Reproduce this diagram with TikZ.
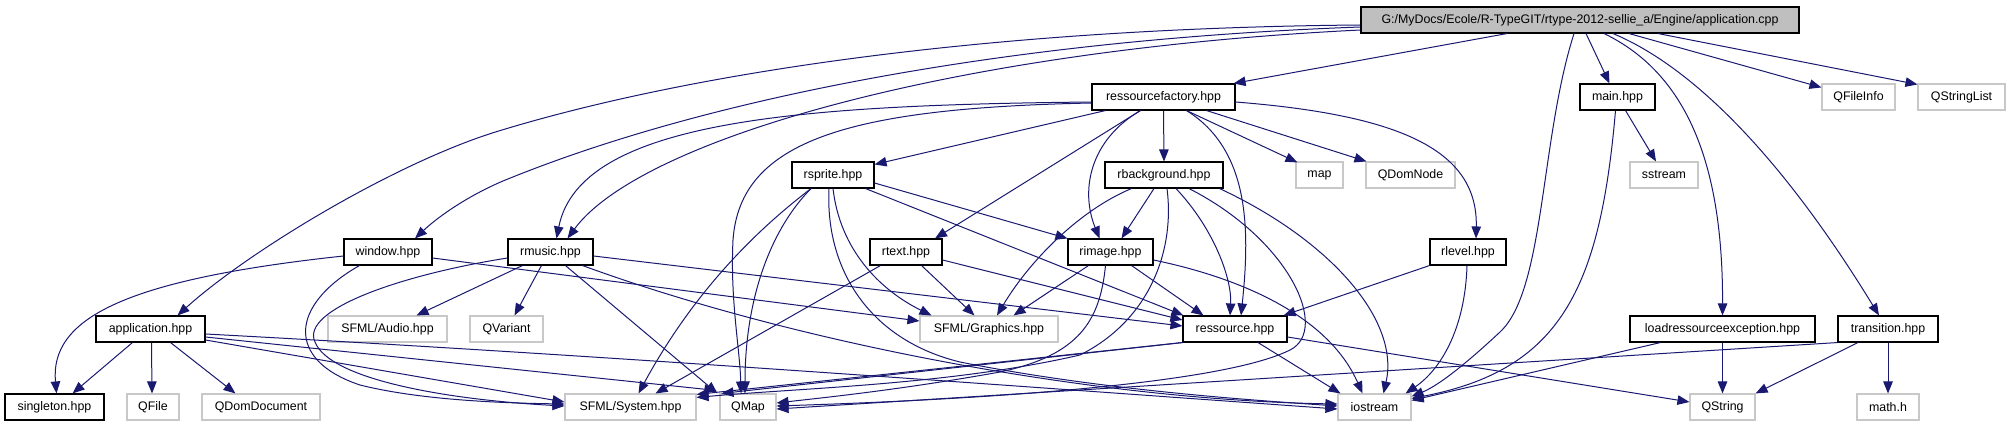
\documentclass[tikz,border=0pt]{standalone}
\usepackage{fontspec}
\setmainfont{Liberation Sans}
\usetikzlibrary{arrows.meta,calc}
\definecolor{edgec}{HTML}{191970}
\definecolor{extgray}{HTML}{C8C8C8}
\definecolor{rootgray}{HTML}{BFBFBF}
\begin{document}
\begin{tikzpicture}[x=1pt,y=-1pt,
  box/.style={draw=black, line width=1.1pt, fill=white, minimum height=26pt, inner sep=0pt, font=\fontsize{12.4}{14}\selectfont},
  ext/.style={box, draw=extgray, line width=1.1pt},
  rootbox/.style={box, fill=rootgray},
  dep/.style={draw=edgec, line width=1pt, -{Triangle[length=12pt,width=9.5pt]}},
]
\useasboundingbox (0,0) rectangle (2009,427);
% nodes
\node[rootbox, minimum width=438pt] (root) at (1580,20) {G:/MyDocs/Ecole/R-TypeGIT/rtype-2012-sellie\_a/Engine/application.cpp};
\node[box, minimum width=143pt] (rf) at (1163.5,97) {ressourcefactory.hpp};
\node[box, minimum width=75pt] (mainh) at (1617.5,97) {main.hpp};
\node[ext, minimum width=73pt] (qfileinfo) at (1858.5,97) {QFileInfo};
\node[ext, minimum width=87pt] (qstringlist) at (1961.5,97) {QStringList};
\node[box, minimum width=82pt] (rsprite) at (833,175) {rsprite.hpp};
\node[box, minimum width=118pt] (rbg) at (1164,175) {rbackground.hpp};
\node[ext, minimum width=47pt] (map) at (1319.5,175) {map};
\node[ext, minimum width=89pt] (qdomnode) at (1410.5,175) {QDomNode};
\node[ext, minimum width=68pt] (sstream) at (1664,175) {sstream};
\node[box, minimum width=88pt] (window) at (388,252) {window.hpp};
\node[box, minimum width=85pt] (rmusic) at (550.5,252) {rmusic.hpp};
\node[box, minimum width=72pt] (rtext) at (906,252) {rtext.hpp};
\node[box, minimum width=85pt] (rimage) at (1110.5,252) {rimage.hpp};
\node[box, minimum width=76pt] (rlevel) at (1468,252) {rlevel.hpp};
\node[box, minimum width=109pt] (app) at (150.5,329) {application.hpp};
\node[ext, minimum width=119pt] (audio) at (387.5,329) {SFML/Audio.hpp};
\node[ext, minimum width=73pt] (qvariant) at (506.5,329) {QVariant};
\node[ext, minimum width=138pt] (graphics) at (989,329) {SFML/Graphics.hpp};
\node[box, minimum width=104pt] (ressource) at (1235,329) {ressource.hpp};
\node[box, minimum width=185pt] (loadex) at (1722.5,329) {loadressourceexception.hpp};
\node[box, minimum width=100pt] (transition) at (1888,329) {transition.hpp};
\node[box, minimum width=99pt] (singleton) at (54.5,407) {singleton.hpp};
\node[ext, minimum width=52pt] (qfile) at (153,407) {QFile};
\node[ext, minimum width=118pt] (qdomdoc) at (261,407) {QDomDocument};
\node[ext, minimum width=131pt] (system) at (630.5,407) {SFML/System.hpp};
\node[ext, minimum width=56pt] (qmap) at (748,407) {QMap};
\node[ext, minimum width=73pt] (iostream) at (1374.5,407) {iostream};
\node[ext, minimum width=65pt] (qstring) at (1722.5,407) {QString};
\node[ext, minimum width=62pt] (math) at (1888,407) {math.h};
% root edges
\draw[dep] ($(root.south)+(-73,0)$) -- ($(rf.north east)+(-2,0)$);
\draw[dep] ($(root.south)+(6,0)$) -- ($(mainh.north)+(-8,0)$);
\draw[dep] ($(root.south)+(49,0)$) -- ($(qfileinfo.north west)+(0,4)$);
\draw[dep] ($(root.south)+(78,0)$) -- ($(qstringlist.north west)+(0,1)$);
\draw[dep] ($(root.south)+(24,0)$) .. controls (1690,75) and (1723,170) .. (loadex.north);
\draw[dep] ($(root.south)+(33,0)$) .. controls (1700,70) and (1790,170) .. ($(transition.north)+(-9,0)$);
\draw[dep] ($(root.south)+(-6,0)$) .. controls (1540,140) and (1545,290) .. (1500,332) .. controls (1470,360) and (1440,385) .. ($(iostream.north east)+(0,3)$);
\draw[dep] ($(root.west)+(0,5)$) .. controls (1000,28) and (700,70) .. (502,130) .. controls (400,160) and (250,250) .. ($(app.north)+(27,0)$);
\draw[dep] ($(root.west)+(0,7)$) .. controls (1000,40) and (700,100) .. (503,181) .. controls (470,195) and (440,215) .. ($(window.north)+(27,0)$);
\draw[dep] ($(root.west)+(0,10)$) .. controls (950,50) and (640,140) .. ($(rmusic.north)+(17,0)$);
% ressourcefactory edges
\draw[dep] ($(rf.west)+(0,5)$) .. controls (800,105) and (580,120) .. ($(rmusic.north)+(6,0)$);
\draw[dep] ($(rf.west)+(0,6)$) .. controls (850,108) and (740,140) .. (733,240) .. controls (730,300) and (740,350) .. ($(qmap.north)+(-7,0)$);
\draw[dep] ($(rf.south west)+(14,0)$) -- ($(rsprite.north east)+(0,3)$);
\draw[dep] ($(rf.south west)+(49,0)$) -- ($(rtext.north)+(29,0)$);
\draw[dep] ($(rf.south west)+(49,0)$) .. controls (1090,140) and (1080,190) .. ($(rimage.north)+(-11,0)$);
\draw[dep] (rf.south) -- (rbg.north);
\draw[dep] ($(rf.south)+(23,0)$) .. controls (1250,150) and (1250,230) .. ($(ressource.north)+(6,0)$);
\draw[dep] ($(rf.south)+(23,0)$) -- ($(map.north west)+(2,1)$);
\draw[dep] ($(rf.south)+(43,0)$) -- ($(qdomnode.north west)+(1,0)$);
\draw[dep] ($(rf.east)+(0,5)$) .. controls (1400,115) and (1478,150) .. ($(rlevel.north)+(8,0)$);
% main
\draw[dep] ($(mainh.south)+(8,0)$) -- ($(sstream.north)+(-8,0)$);
\draw[dep] ($(mainh.south)+(-2,0)$) .. controls (1600,290) and (1560,370) .. ($(iostream.north east)+(0,5)$);
% rsprite
\draw[dep] ($(rsprite.south)+(-22,0)$) .. controls (770,220) and (700,280) .. ($(system.north)+(8,0)$);
\draw[dep] ($(rsprite.south)+(-22,0)$) .. controls (770,230) and (745,300) .. ($(qmap.north)+(-3,0)$);
\draw[dep] (rsprite.south) .. controls (840,250) and (880,290) .. ($(graphics.north west)+(12,0)$);
\draw[dep] ($(rsprite.south)+(-4,0)$) .. controls (825,270) and (870,340) .. (960,362) .. controls (1100,390) and (1250,400) .. ($(iostream.west)+(0,-1)$);
\draw[dep] ($(rsprite.south east)+(-9,0)$) -- ($(ressource.north west)+(1,0)$);
\draw[dep] ($(rsprite.east)+(0,8)$) -- (rimage.north west);
% rbackground
\draw[dep] ($(rbg.south west)+(27,0)$) .. controls (1080,210) and (1030,260) .. ($(graphics.north)+(8,0)$);
\draw[dep] ($(rbg.south)+(-10,0)$) -- ($(rimage.north)+(11,0)$);
\draw[dep] ($(rbg.south)+(3,0)$) .. controls (1175,250) and (1150,320) .. (1080,355) .. controls (950,385) and (800,388) .. ($(system.north east)+(0,4)$);
\draw[dep] ($(rbg.south)+(12,0)$) .. controls (1215,230) and (1232,280) .. ($(ressource.north)+(-5,0)$);
\draw[dep] ($(rbg.south)+(25,0)$) .. controls (1290,240) and (1330,330) .. (1290,350) .. controls (1210,390) and (900,402) .. ($(qmap.east)+(0,-1)$);
\draw[dep] ($(rbg.south east)+(-4,0)$) .. controls (1330,240) and (1400,320) .. ($(iostream.north)+(9,0)$);
% rimage
\draw[dep] ($(rimage.south west)+(21,0)$) -- ($(graphics.north east)+(-45,0)$);
\draw[dep] ($(rimage.south)+(-5,0)$) .. controls (1100,320) and (1080,355) .. (1000,372) .. controls (900,390) and (820,398) .. ($(qmap.east)+(0,-4)$);
\draw[dep] ($(rimage.south east)+(-22,0)$) -- ($(ressource.north west)+(21,0)$);
\draw[dep] ($(rimage.east)+(0,8)$) .. controls (1250,280) and (1330,320) .. ($(iostream.north)+(-12,0)$);
% rtext
\draw[dep] ($(rtext.south west)+(11,0)$) -- ($(system.north)+(25,0)$);
\draw[dep] ($(rtext.south east)+(-21,0)$) -- ($(graphics.north west)+(55,0)$);
\draw[dep] ($(rtext.east)+(0,8)$) -- ($(ressource.west)+(0,-9)$);
% rlevel
\draw[dep] (rlevel.south west) -- ($(ressource.north east)+(-4,0)$);
\draw[dep] ($(rlevel.south)+(-1,0)$) .. controls (1465,330) and (1440,370) .. ($(iostream.north east)+(-6,0)$);
% ressource
\draw[dep] ($(ressource.south)+(23,0)$) -- ($(iostream.north west)+(3,0)$);
\draw[dep] ($(ressource.east)+(0,8)$) -- ($(qstring.west)+(0,-5)$);
\draw[dep] (ressource.south west) -- ($(system.north east)+(0,1)$);
\draw[dep] (ressource.south west) -- ($(qmap.north west)+(2,0)$);
% loadressourceexception
\draw[dep] ($(loadex.south west)+(31,0)$) -- ($(iostream.north east)+(0,7)$);
\draw[dep] (loadex.south) -- (qstring.north);
% transition
\draw[dep] ($(transition.south)+(-30,0)$) -- (qstring.north east);
\draw[dep] (transition.south) -- (math.north);
\draw[dep] (transition.south west) -- ($(qmap.east)+(0,2)$);
% rmusic
\draw[dep] ($(rmusic.south west)+(15,0)$) -- ($(audio.north)+(29,0)$);
\draw[dep] ($(rmusic.south west)+(34,0)$) -- ($(qvariant.north)+(8,0)$);
\draw[dep] ($(rmusic.west)+(0,6)$) .. controls (400,275) and (300,310) .. (315,342) .. controls (330,380) and (450,400) .. ($(system.west)+(0,-1)$);
\draw[dep] ($(rmusic.south west)+(58,0)$) -- ($(qmap.north west)+(-2,0)$);
\draw[dep] ($(rmusic.south east)+(-11,0)$) .. controls (800,345) and (1100,400) .. ($(iostream.west)+(0,-3)$);
\draw[dep] ($(rmusic.east)+(0,4)$) -- ($(ressource.west)+(0,-3)$);
% window
\draw[dep] ($(window.west)+(0,4)$) .. controls (120,280) and (50,320) .. ($(singleton.north)+(2,0)$);
\draw[dep] ($(window.east)+(0,6)$) -- ($(graphics.west)+(0,-8)$);
\draw[dep] ($(window.south west)+(16,0)$) .. controls (290,305) and (285,360) .. (360,385) .. controls (420,400) and (500,403) .. ($(system.west)+(0,-3)$);
% application
\draw[dep] ($(app.south west)+(37,0)$) -- ($(singleton.north)+(18,0)$);
\draw[dep] ($(app.south)+(1,0)$) -- ($(qfile.north)+(-1,0)$);
\draw[dep] ($(app.south)+(20,0)$) -- ($(qdomdoc.north west)+(34,0)$);
\draw[dep] ($(app.east)+(0,11)$) -- ($(system.west)+(0,-5)$);
\draw[dep] ($(app.east)+(0,8)$) -- ($(qmap.north west)+(-3,-3)$);
\draw[dep] ($(app.east)+(0,5)$) .. controls (600,355) and (1000,385) .. ($(iostream.west)+(0,2)$);
\end{tikzpicture}
\end{document}
